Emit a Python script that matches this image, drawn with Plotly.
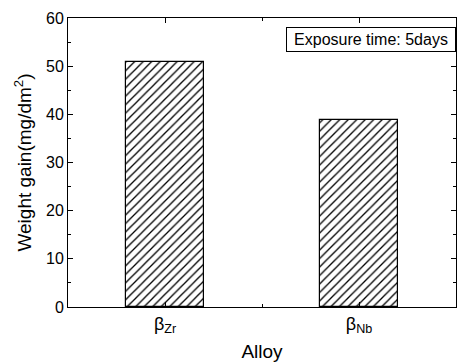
import plotly.graph_objects as go

alloys = ["β<sub>Zr</sub>", "β<sub>Nb</sub>"]
positions = [0, 1]
weight_gain = [50.9, 38.8]

fig = go.Figure()
fig.add_trace(go.Bar(
    x=positions, y=weight_gain, width=0.4,
    marker=dict(color="white", line=dict(color="black", width=1.2),
                pattern=dict(shape="/", size=6, solidity=0.22, fgcolor="black", bgcolor="white", fgopacity=1)),
    showlegend=False,
))

font = "Liberation Sans, Arial, sans-serif"
fig.update_layout(
    width=458, height=362,
    margin=dict(l=68, r=2, t=18, b=55, autoexpand=False),
    paper_bgcolor="white", plot_bgcolor="white",
    font=dict(family=font, color="black", size=16),
    bargap=0,
)
fig.update_xaxes(
    range=[-0.5, 1.5], tickvals=positions, ticktext=alloys,
    showline=True, linecolor="black", linewidth=1, mirror="ticks",
    ticks="inside", ticklen=5, tickcolor="black",
    minor=dict(dtick=0.5, tick0=0, ticks="inside", ticklen=3, tickcolor="black"),
    showgrid=False, zeroline=False, automargin=False,
    tickfont=dict(size=18),
    title=dict(text="Alloy", font=dict(size=19), standoff=10),
)
fig.update_yaxes(
    range=[0, 60], dtick=10,
    showline=True, linecolor="black", linewidth=1, mirror="ticks",
    ticks="inside", ticklen=5, tickcolor="black",
    minor=dict(dtick=5, ticks="inside", ticklen=3, tickcolor="black"),
    showgrid=False, zeroline=False, automargin=False,
    tickfont=dict(size=16),
    title=dict(text="Weight gain(mg/dm<sup>2</sup>)", font=dict(size=19), standoff=9),
)
fig.add_annotation(
    xref="paper", yref="paper", x=1, y=0.97, xanchor="right", yanchor="top",
    text="Exposure time: 5days", showarrow=False, width=164, height=19,
    font=dict(size=16), bordercolor="black", borderwidth=1, borderpad=2,
    bgcolor="white",
)
fig.write_html("out.html")
